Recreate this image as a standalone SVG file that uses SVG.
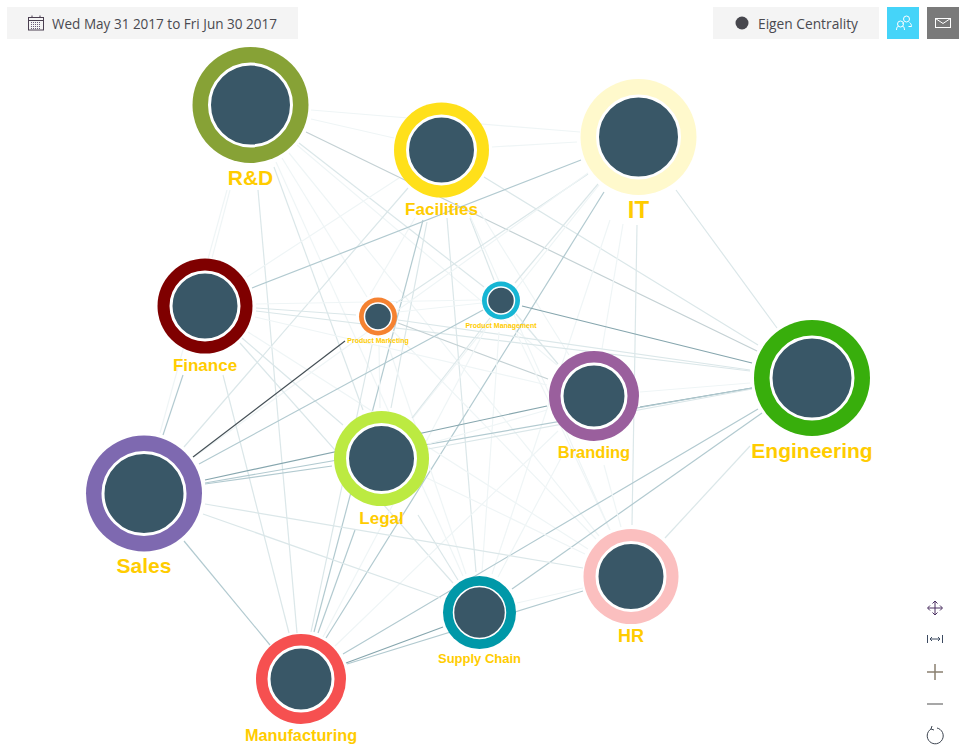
<svg xmlns="http://www.w3.org/2000/svg" width="962" height="754" viewBox="0 0 962 754">
<style>
.bar{fill:#f4f4f4}
.ui{font-family:"Open Sans","Noto Sans",sans-serif;font-size:14px;fill:#4a4a50}
.lab{font-family:"Liberation Sans",Arial,sans-serif;font-weight:700;fill:#ffcc00;text-anchor:middle}
.core{fill:#395767;stroke:#fff;stroke-width:3}
.small{stroke-width:1.5}
#edges line{fill:none;stroke-width:1.200}
.w1{stroke:#eff5f6}
.w2{stroke:#dbe7e9}
.w3{stroke:#b2cad0}
.g{stroke:#c4d1d4}
.w4{stroke:#86a6ae}
.w5{stroke:#444f55}
.ic{fill:none;stroke:#4a3f50;stroke-width:1}
.w{fill:none;stroke:#fff;stroke-width:1}
</style>
<rect width="962" height="754" fill="#fff"/>
<g id="edges">
<line class="w1" x1="311" y1="119" x2="394" y2="138"/>
<line class="w1" x1="311" y1="110" x2="580" y2="132"/>
<line class="w1" x1="230" y1="190" x2="212" y2="258"/>
<line class="w1" x1="282" y1="158" x2="367" y2="297"/>
<line class="w2" x1="299" y1="143" x2="484" y2="287"/>
<line class="g" x1="306" y1="132" x2="757" y2="351"/>
<line class="w1" x1="297" y1="145" x2="557" y2="365"/>
<line class="w2" x1="274" y1="167" x2="363" y2="410"/>
<line class="w1" x1="227" y1="190" x2="160" y2="433"/>
<line class="w1" x1="289" y1="153" x2="599" y2="536"/>
<line class="w1" x1="276" y1="162" x2="463" y2="576"/>
<line class="w2" x1="258" y1="190" x2="297" y2="633"/>
<line class="w1" x1="492" y1="147" x2="577" y2="142"/>
<line class="w1" x1="399" y1="178" x2="247" y2="277"/>
<line class="w1" x1="415" y1="218" x2="370" y2="295"/>
<line class="w2" x1="470" y1="218" x2="494" y2="280"/>
<line class="w2" x1="484" y1="177" x2="758" y2="345"/>
<line class="w1" x1="480" y1="212" x2="569" y2="355"/>
<line class="w2" x1="427" y1="222" x2="391" y2="408"/>
<line class="w3" x1="423" y1="220" x2="314" y2="632"/>
<line class="w2" x1="408" y1="188" x2="184" y2="447"/>
<line class="w1" x1="470" y1="216" x2="610" y2="530"/>
<line class="w2" x1="447" y1="218" x2="476" y2="572"/>
<line class="w3" x1="581" y1="160" x2="252" y2="288"/>
<line class="w2" x1="588" y1="174" x2="396" y2="303"/>
<line class="w2" x1="598" y1="184" x2="515" y2="283"/>
<line class="w2" x1="676" y1="190" x2="777" y2="328"/>
<line class="w1" x1="623" y1="224" x2="602" y2="349"/>
<line class="w1" x1="599" y1="185" x2="413" y2="418"/>
<line class="w1" x1="588" y1="173" x2="194" y2="457"/>
<line class="w2" x1="637" y1="225" x2="632" y2="525"/>
<line class="w1" x1="610" y1="220" x2="492" y2="574"/>
<line class="w3" x1="604" y1="192" x2="326" y2="638"/>
<line class="w2" x1="256" y1="308" x2="356" y2="315"/>
<line class="w1" x1="256" y1="304" x2="479" y2="300"/>
<line class="w2" x1="256" y1="311" x2="750" y2="371"/>
<line class="w1" x1="255" y1="317" x2="547" y2="385"/>
<line class="w2" x1="242" y1="338" x2="343" y2="425"/>
<line class="w3" x1="183" y1="375" x2="163" y2="435"/>
<line class="w1" x1="248" y1="332" x2="588" y2="549"/>
<line class="w2" x1="240" y1="343" x2="453" y2="583"/>
<line class="w2" x1="223" y1="375" x2="289" y2="633"/>
<line class="w1" x1="398" y1="312" x2="482" y2="303"/>
<line class="w2" x1="398" y1="320" x2="750" y2="370"/>
<line class="g" x1="398" y1="323" x2="548" y2="379"/>
<line class="w1" x1="379" y1="345" x2="380" y2="408"/>
<line class="w5" x1="345" y1="341" x2="193" y2="457"/>
<line class="w1" x1="393" y1="331" x2="596" y2="539"/>
<line class="w1" x1="388" y1="345" x2="466" y2="574"/>
<line class="w2" x1="372" y1="345" x2="311" y2="632"/>
<line class="w4" x1="522" y1="306" x2="752" y2="363"/>
<line class="w2" x1="516" y1="314" x2="558" y2="364"/>
<line class="w2" x1="490" y1="318" x2="412" y2="418"/>
<line class="w3" x1="483" y1="310" x2="199" y2="464"/>
<line class="w1" x1="514" y1="328" x2="610" y2="530"/>
<line class="w1" x1="499" y1="332" x2="482" y2="572"/>
<line class="w1" x1="486" y1="328" x2="323" y2="637"/>
<line class="w4" x1="640" y1="407" x2="752" y2="388"/>
<line class="w1" x1="640" y1="392" x2="750" y2="383"/>
<line class="w2" x1="428" y1="449" x2="752" y2="389"/>
<line class="w4" x1="205" y1="480" x2="547" y2="406"/>
<line class="w3" x1="205" y1="483" x2="752" y2="388"/>
<line class="w3" x1="205" y1="484" x2="332" y2="466"/>
<line class="w1" x1="428" y1="444" x2="547" y2="410"/>
<line class="w2" x1="750" y1="446" x2="665" y2="538"/>
<line class="w3" x1="762" y1="413" x2="512" y2="589"/>
<line class="w3" x1="758" y1="409" x2="343" y2="654"/>
<line class="w1" x1="604" y1="465" x2="621" y2="527"/>
<line class="w1" x1="561" y1="458" x2="498" y2="577"/>
<line class="w1" x1="558" y1="431" x2="335" y2="646"/>
<line class="w1" x1="427" y1="478" x2="585" y2="554"/>
<line class="w2" x1="418" y1="515" x2="458" y2="580"/>
<line class="w3" x1="355" y1="530" x2="318" y2="633"/>
<line class="w2" x1="205" y1="504" x2="583" y2="568"/>
<line class="w2" x1="203" y1="514" x2="441" y2="598"/>
<line class="w3" x1="184" y1="541" x2="270" y2="645"/>
<line class="w1" x1="583" y1="588" x2="517" y2="603"/>
<line class="w3" x1="583" y1="591" x2="347" y2="664"/>
<line class="w4" x1="443" y1="627" x2="346" y2="663"/>
</g>
<g id="node-rd"><circle cx="250.500" cy="105" r="58" fill="#87a236"/><circle class="core" cx="250.500" cy="105" r="41"/><text class="lab" x="250.500" y="185" font-size="21">R&amp;D</text></g>
<g id="node-facilities"><circle cx="441.500" cy="150" r="47.500" fill="#ffe01a"/><circle class="core" cx="441.500" cy="150" r="34"/><text class="lab" x="441.500" y="215" font-size="17">Facilities</text></g>
<g id="node-it"><circle cx="638.500" cy="137" r="58" fill="#fff9cc"/><circle class="core" cx="638.500" cy="137" r="41"/><text class="lab" x="638.500" y="218" font-size="24">IT</text></g>
<g id="node-finance"><circle cx="205" cy="306" r="47.500" fill="#7f0000"/><circle class="core" cx="205" cy="306" r="34"/><text class="lab" x="205" y="371" font-size="17">Finance</text></g>
<g id="node-product-marketing"><circle cx="378" cy="316.500" r="19" fill="#f58231"/><circle class="core small" cx="378" cy="316.500" r="13.500"/><text class="lab" x="378" y="343" font-size="7">Product Marketing</text></g>
<g id="node-product-management"><circle cx="501" cy="300.500" r="19" fill="#17b6d4"/><circle class="core small" cx="501" cy="300.500" r="13.500"/><text class="lab" x="501" y="328" font-size="7">Product Management</text></g>
<g id="node-engineering"><circle cx="812" cy="378" r="58" fill="#38ae0c"/><circle class="core" cx="812" cy="378" r="41"/><text class="lab" x="812" y="458" font-size="21">Engineering</text></g>
<g id="node-branding"><circle cx="594" cy="396" r="45" fill="#9a5f9d"/><circle class="core" cx="594" cy="396" r="32"/><text class="lab" x="594" y="458" font-size="16.500">Branding</text></g>
<g id="node-legal"><circle cx="381.500" cy="458.500" r="47.500" fill="#bcea41"/><circle class="core" cx="381.500" cy="458.500" r="34"/><text class="lab" x="381.500" y="524" font-size="17">Legal</text></g>
<g id="node-sales"><circle cx="144" cy="493.500" r="58" fill="#7e69b0"/><circle class="core" cx="144" cy="493.500" r="41"/><text class="lab" x="144" y="573" font-size="21">Sales</text></g>
<g id="node-hr"><circle cx="631" cy="576.500" r="47.500" fill="#fbbfbf"/><circle class="core" cx="631" cy="576.500" r="34"/><text class="lab" x="631" y="642" font-size="18">HR</text></g>
<g id="node-supply-chain"><circle cx="479.500" cy="612.500" r="36.500" fill="#0098a8"/><circle class="core small" cx="479.500" cy="612.500" r="26"/><text class="lab" x="479.500" y="663" font-size="13">Supply Chain</text></g>
<g id="node-manufacturing"><circle cx="301" cy="679" r="45" fill="#f65050"/><circle class="core" cx="301" cy="679" r="32"/><text class="lab" x="301" y="741" font-size="16.300">Manufacturing</text></g>
<g id="date-bar">
<rect class="bar" x="7" y="7" width="291" height="32"/>
<rect class="ic" x="28.500" y="17.500" width="15" height="12.500"/>
<path class="ic" d="M28.500 20.500H43.500M32 15.500V18M40 15.500V18"/>
<path d="M31 22.500h10M31 24.500h10M31 26.500h10M31 28.500h10" stroke="#6a5a78" stroke-width="1" stroke-dasharray="1 1" fill="none"/>
<text class="ui" x="52" y="29" textLength="225" lengthAdjust="spacingAndGlyphs">Wed May 31 2017 to Fri Jun 30 2017</text>
</g>
<g id="metric-bar">
<rect class="bar" x="713" y="7" width="166" height="32"/>
<circle cx="742" cy="23" r="6.500" fill="#47474d"/>
<text class="ui" x="758" y="29" textLength="100" lengthAdjust="spacingAndGlyphs">Eigen Centrality</text>
</g>
<g id="people-button">
<rect x="887" y="7" width="32" height="32" fill="#45d4f9"/>
<circle class="w" cx="900.500" cy="24" r="3"/><path class="w" d="M896.500 30c0-3 1.500-4 2-4M904.500 30c0-3-1.500-4-2-4"/>
<circle class="w" cx="906.500" cy="19" r="3"/><path class="w" d="M903.500 22.500l-1 1M909.500 22.500c1.500 1 2 2.500 2 4h-3"/>
</g>
<g id="mail-button">
<rect x="927" y="7" width="32" height="32" fill="#7a7a7a"/>
<rect class="w" x="935.500" y="18.500" width="15" height="9"/><path class="w" d="M935.500 18.500l7.500 5 7.500-5"/>
</g>
<g id="map-controls">
<path class="ic" style="stroke:#4a2f60" d="M935 601v14M928 608h14M932.500 603.500l2.500-2.500 2.500 2.500M932.500 612.500l2.500 2.500 2.500-2.500M930 605.500l-2.500 2.500 2.500 2.500M940 605.500l2.500 2.500-2.500 2.500"/>
<path class="ic" style="stroke:#3c4a60" d="M927.500 635v8M942.500 635v8M930 639h10M932 637l-2 2 2 2M938 637l2 2-2 2"/>
<path d="M927 672h16M935 664v16" fill="none" stroke="#8a8070" stroke-width="1.500"/>
<path d="M927 704h16" fill="none" stroke="#8a8a8a" stroke-width="1.500"/>
<path d="M931 729a8 8 0 1 0 6 -1M931 729l1 -3M931 729l3 1" fill="none" stroke="#3c4450" stroke-width="1"/>
</g>
</svg>
